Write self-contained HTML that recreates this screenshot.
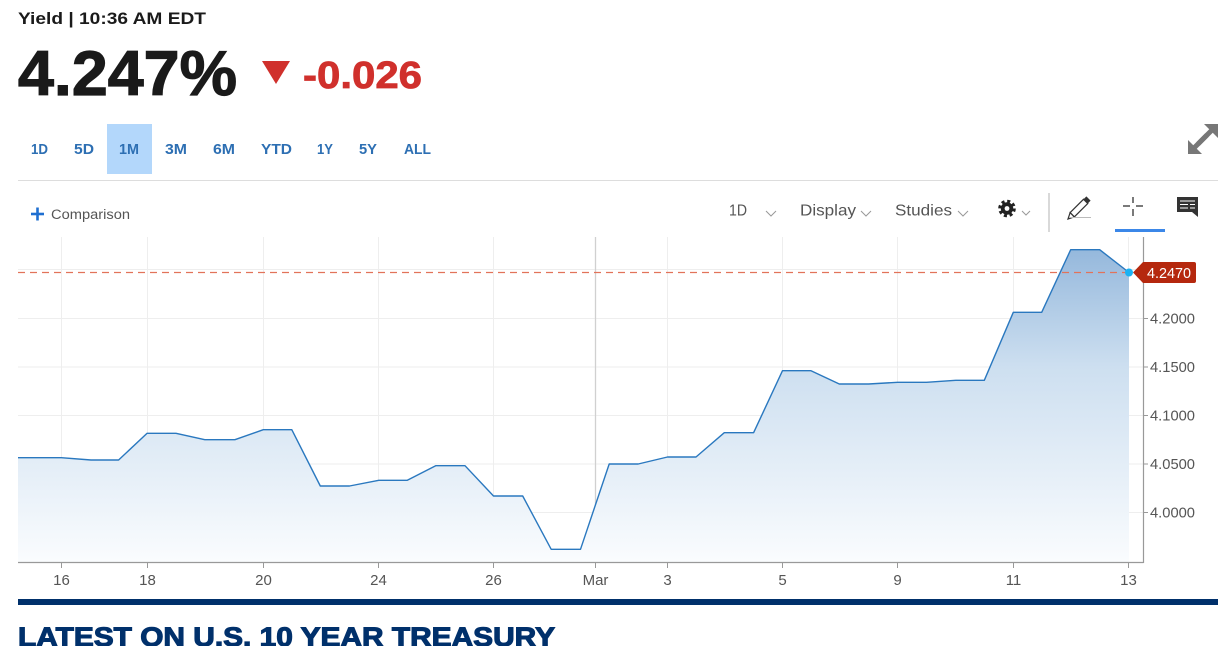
<!DOCTYPE html>
<html>
<head>
<meta charset="utf-8">
<style>
html,body{margin:0;padding:0;background:#fff;}
svg{display:block;}
text{font-family:"Liberation Sans",Arial,sans-serif;}
</style>
</head>
<body>
<svg width="1222" height="646" viewBox="0 0 1222 646" xmlns="http://www.w3.org/2000/svg">
<defs>
<linearGradient id="fillg" x1="0" y1="237" x2="0" y2="562" gradientUnits="userSpaceOnUse">
<stop offset="0" stop-color="#8fb4da"/>
<stop offset="0.4" stop-color="#cddff0"/>
<stop offset="1" stop-color="#fafcfe"/>
</linearGradient>
</defs>

<!-- Header -->
<text x="18" y="24" font-size="17" font-weight="bold" fill="#1a1a1a" textLength="188" lengthAdjust="spacingAndGlyphs">Yield | 10:36 AM EDT</text>
<text x="18" y="95" font-size="63" font-weight="bold" fill="#1a1a1a" stroke="#1a1a1a" stroke-width="1.2" textLength="219" lengthAdjust="spacingAndGlyphs">4.247%</text>
<polygon points="262,61 290,61 276,84" fill="#d0302c"/>
<text x="303" y="88" font-size="38" font-weight="bold" fill="#d0302c" stroke="#d0302c" stroke-width="0.8" textLength="119" lengthAdjust="spacingAndGlyphs">-0.026</text>

<!-- Range buttons -->
<rect x="107" y="124" width="45" height="50" fill="#b3d7fb"/>
<g font-size="15" font-weight="bold" fill="#2d6fb3">
<text x="31" y="154" textLength="17" lengthAdjust="spacingAndGlyphs">1D</text>
<text x="74" y="154" textLength="20" lengthAdjust="spacingAndGlyphs">5D</text>
<text x="119" y="154" textLength="20" lengthAdjust="spacingAndGlyphs">1M</text>
<text x="165" y="154" textLength="22" lengthAdjust="spacingAndGlyphs">3M</text>
<text x="213" y="154" textLength="22" lengthAdjust="spacingAndGlyphs">6M</text>
<text x="261" y="154" textLength="31" lengthAdjust="spacingAndGlyphs">YTD</text>
<text x="317" y="154" textLength="16" lengthAdjust="spacingAndGlyphs">1Y</text>
<text x="359" y="154" textLength="18" lengthAdjust="spacingAndGlyphs">5Y</text>
<text x="404" y="154" textLength="27" lengthAdjust="spacingAndGlyphs">ALL</text>
</g>

<!-- Expand icon -->
<g fill="#777" stroke="#777">
<polygon points="1218,124 1204,124 1218,138" stroke="none"/>
<line x1="1198" y1="144" x2="1212" y2="130" stroke-width="5"/>
<polygon points="1188,154 1188,140 1202,154" stroke="none"/>
<line x1="1194" y1="148" x2="1207" y2="135" stroke-width="5"/>
</g>

<!-- Separator -->
<line x1="18" y1="180.5" x2="1218" y2="180.5" stroke="#dddddd" stroke-width="1"/>

<!-- Toolbar -->
<g stroke="#1f6fd1" stroke-width="2.6">
<line x1="31" y1="214" x2="44" y2="214"/>
<line x1="37.5" y1="207.5" x2="37.5" y2="220.5"/>
</g>
<text x="51" y="219" font-size="13.5" fill="#555" textLength="79" lengthAdjust="spacingAndGlyphs">Comparison</text>

<g font-size="16" fill="#555">
<text x="729" y="215.5" textLength="18" lengthAdjust="spacingAndGlyphs">1D</text>
<text x="800" y="215.5" textLength="56" lengthAdjust="spacingAndGlyphs">Display</text>
<text x="895" y="215.5" textLength="57" lengthAdjust="spacingAndGlyphs">Studies</text>
</g>
<g fill="none" stroke="#999" stroke-width="1">
<polyline points="766,211 771,216 776,211"/>
<polyline points="861,211 866,216 871,211"/>
<polyline points="958,211 963,216 968,211"/>
<polyline points="1022,211 1026,215 1030,211"/>
</g>
<!-- gear -->
<circle cx="1007" cy="208.5" r="7.2" fill="none" stroke="#222" stroke-width="3.2" stroke-dasharray="3 2.65"/>
<circle cx="1007" cy="208.5" r="6.2" fill="#222"/>
<circle cx="1007" cy="208.5" r="2.4" fill="#fff"/>
<!-- divider -->
<line x1="1049" y1="193" x2="1049" y2="232" stroke="#cccccc" stroke-width="1.5"/>
<!-- pencil -->
<g transform="rotate(-45 1080 207)">
<rect x="1069" y="204" width="19" height="6" fill="#fff" stroke="#333" stroke-width="1.2"/>
<rect x="1088" y="204" width="4" height="6" fill="#333"/>
<polygon points="1069,204 1063,207 1069,210" fill="#fff" stroke="#333" stroke-width="1.2"/>
</g>
<line x1="1069" y1="217.5" x2="1091" y2="217.5" stroke="#bbb" stroke-width="1"/>
<!-- crosshair -->
<g stroke="#333" stroke-width="1.3">
<line x1="1123" y1="206" x2="1130" y2="206"/>
<line x1="1136" y1="206" x2="1143" y2="206"/>
<line x1="1133" y1="197" x2="1133" y2="203"/>
<line x1="1133" y1="209" x2="1133" y2="216"/>
</g>
<rect x="1115" y="229" width="50" height="3" fill="#3b87e8"/>
<!-- comment -->
<rect x="1177" y="197" width="21" height="15" fill="#333"/>
<polygon points="1192,212 1198,212 1198,217" fill="#333"/>
<g stroke="#fff" stroke-width="1">
<line x1="1180" y1="201" x2="1195" y2="201"/>
<line x1="1180" y1="204.5" x2="1188" y2="204.5"/>
<line x1="1190" y1="204.5" x2="1195" y2="204.5"/>
<line x1="1180" y1="208" x2="1188" y2="208"/>
<line x1="1190" y1="208" x2="1195" y2="208"/>
</g>

<!-- Chart grid -->
<g stroke="#eeeeee" stroke-width="1">
<line x1="18" y1="269.5" x2="1143" y2="269.5"/>
<line x1="18" y1="318.5" x2="1143" y2="318.5"/>
<line x1="18" y1="367" x2="1143" y2="367"/>
<line x1="18" y1="415.5" x2="1143" y2="415.5"/>
<line x1="18" y1="464" x2="1143" y2="464"/>
<line x1="18" y1="512.5" x2="1143" y2="512.5"/>
<line x1="61.5" y1="237" x2="61.5" y2="562"/>
<line x1="147.5" y1="237" x2="147.5" y2="562"/>
<line x1="263.5" y1="237" x2="263.5" y2="562"/>
<line x1="378.5" y1="237" x2="378.5" y2="562"/>
<line x1="493.5" y1="237" x2="493.5" y2="562"/>
<line x1="667.5" y1="237" x2="667.5" y2="562"/>
<line x1="782.5" y1="237" x2="782.5" y2="562"/>
<line x1="897.5" y1="237" x2="897.5" y2="562"/>
<line x1="1013.5" y1="237" x2="1013.5" y2="562"/>
<line x1="1128.5" y1="237" x2="1128.5" y2="562"/>
</g>
<line x1="595.5" y1="237" x2="595.5" y2="562" stroke="#d0d0d0" stroke-width="1.3"/>

<!-- Area fill -->
<polygon fill="url(#fillg)" points="18,457.7 61.3,457.7 91,460 118.6,460 147.1,433.3 176,433.3 204.8,439.7 234.9,439.7 263.3,429.7 291.8,429.7 320.3,486 349.5,486 378.8,480.3 407.3,480.3 435.7,465.7 465,465.7 493.5,496 522.7,496 551.2,549.3 580.5,549.3 609.2,464 638.2,464 667.5,457 696,457 724.3,432.7 753.6,432.7 782.5,370.7 811,370.7 839.3,384 868.6,384 897.5,382.3 926.4,382.3 955.7,380.3 984.3,380.3 1013.3,312.3 1041.7,312.3 1070.7,249.7 1099.7,249.7 1129,272.5 1129,562 18,562"/>

<!-- Dashed current line -->
<line x1="18" y1="272.5" x2="1134" y2="272.5" stroke="#e2735a" stroke-width="1.2" stroke-dasharray="7 5"/>

<!-- Series line -->
<polyline fill="none" stroke="#2a78bf" stroke-width="1.4" stroke-linejoin="round" points="18,457.7 61.3,457.7 91,460 118.6,460 147.1,433.3 176,433.3 204.8,439.7 234.9,439.7 263.3,429.7 291.8,429.7 320.3,486 349.5,486 378.8,480.3 407.3,480.3 435.7,465.7 465,465.7 493.5,496 522.7,496 551.2,549.3 580.5,549.3 609.2,464 638.2,464 667.5,457 696,457 724.3,432.7 753.6,432.7 782.5,370.7 811,370.7 839.3,384 868.6,384 897.5,382.3 926.4,382.3 955.7,380.3 984.3,380.3 1013.3,312.3 1041.7,312.3 1070.7,249.7 1099.7,249.7 1129,272.5"/>
<circle cx="1129" cy="272.5" r="4" fill="#1ab2f2"/>

<!-- Axes -->
<line x1="18" y1="562.5" x2="1143.5" y2="562.5" stroke="#999" stroke-width="1.2"/>
<line x1="1143.5" y1="237" x2="1143.5" y2="563" stroke="#999" stroke-width="1.2"/>
<g stroke="#999" stroke-width="1">
<line x1="61.5" y1="562" x2="61.5" y2="568"/>
<line x1="147.5" y1="562" x2="147.5" y2="568"/>
<line x1="263.5" y1="562" x2="263.5" y2="568"/>
<line x1="378.5" y1="562" x2="378.5" y2="568"/>
<line x1="493.5" y1="562" x2="493.5" y2="568"/>
<line x1="595.5" y1="562" x2="595.5" y2="568"/>
<line x1="667.5" y1="562" x2="667.5" y2="568"/>
<line x1="782.5" y1="562" x2="782.5" y2="568"/>
<line x1="897.5" y1="562" x2="897.5" y2="568"/>
<line x1="1013.5" y1="562" x2="1013.5" y2="568"/>
<line x1="1128.5" y1="562" x2="1128.5" y2="568"/>
<line x1="1143" y1="318.5" x2="1148" y2="318.5"/>
<line x1="1143" y1="367" x2="1148" y2="367"/>
<line x1="1143" y1="415.5" x2="1148" y2="415.5"/>
<line x1="1143" y1="464" x2="1148" y2="464"/>
<line x1="1143" y1="512.5" x2="1148" y2="512.5"/>
</g>

<!-- X labels -->
<g font-size="15" fill="#555" text-anchor="middle">
<text x="61.5" y="585">16</text>
<text x="147.5" y="585">18</text>
<text x="263.5" y="585">20</text>
<text x="378.5" y="585">24</text>
<text x="493.5" y="585">26</text>
<text x="595.5" y="585">Mar</text>
<text x="667.5" y="585">3</text>
<text x="782.5" y="585">5</text>
<text x="897.5" y="585">9</text>
<text x="1013.5" y="585">11</text>
<text x="1128.5" y="585">13</text>
</g>

<!-- Y labels -->
<g font-size="15" fill="#555">
<text x="1150" y="323.5" textLength="45" lengthAdjust="spacingAndGlyphs">4.2000</text>
<text x="1150" y="372" textLength="45" lengthAdjust="spacingAndGlyphs">4.1500</text>
<text x="1150" y="420.5" textLength="45" lengthAdjust="spacingAndGlyphs">4.1000</text>
<text x="1150" y="469" textLength="45" lengthAdjust="spacingAndGlyphs">4.0500</text>
<text x="1150" y="517.5" textLength="45" lengthAdjust="spacingAndGlyphs">4.0000</text>
</g>

<!-- Current value tag -->
<path d="M1133,272.5 L1143,262 L1194,262 Q1196,262 1196,264 L1196,281 Q1196,283 1194,283 L1143,283 Z" fill="#b5280e"/>
<text x="1147" y="278" font-size="15" fill="#fff" textLength="44" lengthAdjust="spacingAndGlyphs">4.2470</text>

<!-- Bottom bar & heading -->
<rect x="18" y="599" width="1200" height="6" fill="#00306b"/>
<text x="18" y="646" font-size="27" font-weight="bold" fill="#00306b" stroke="#00306b" stroke-width="1.1" textLength="537" lengthAdjust="spacingAndGlyphs">LATEST ON U.S. 10 YEAR TREASURY</text>
</svg>
</body>
</html>
